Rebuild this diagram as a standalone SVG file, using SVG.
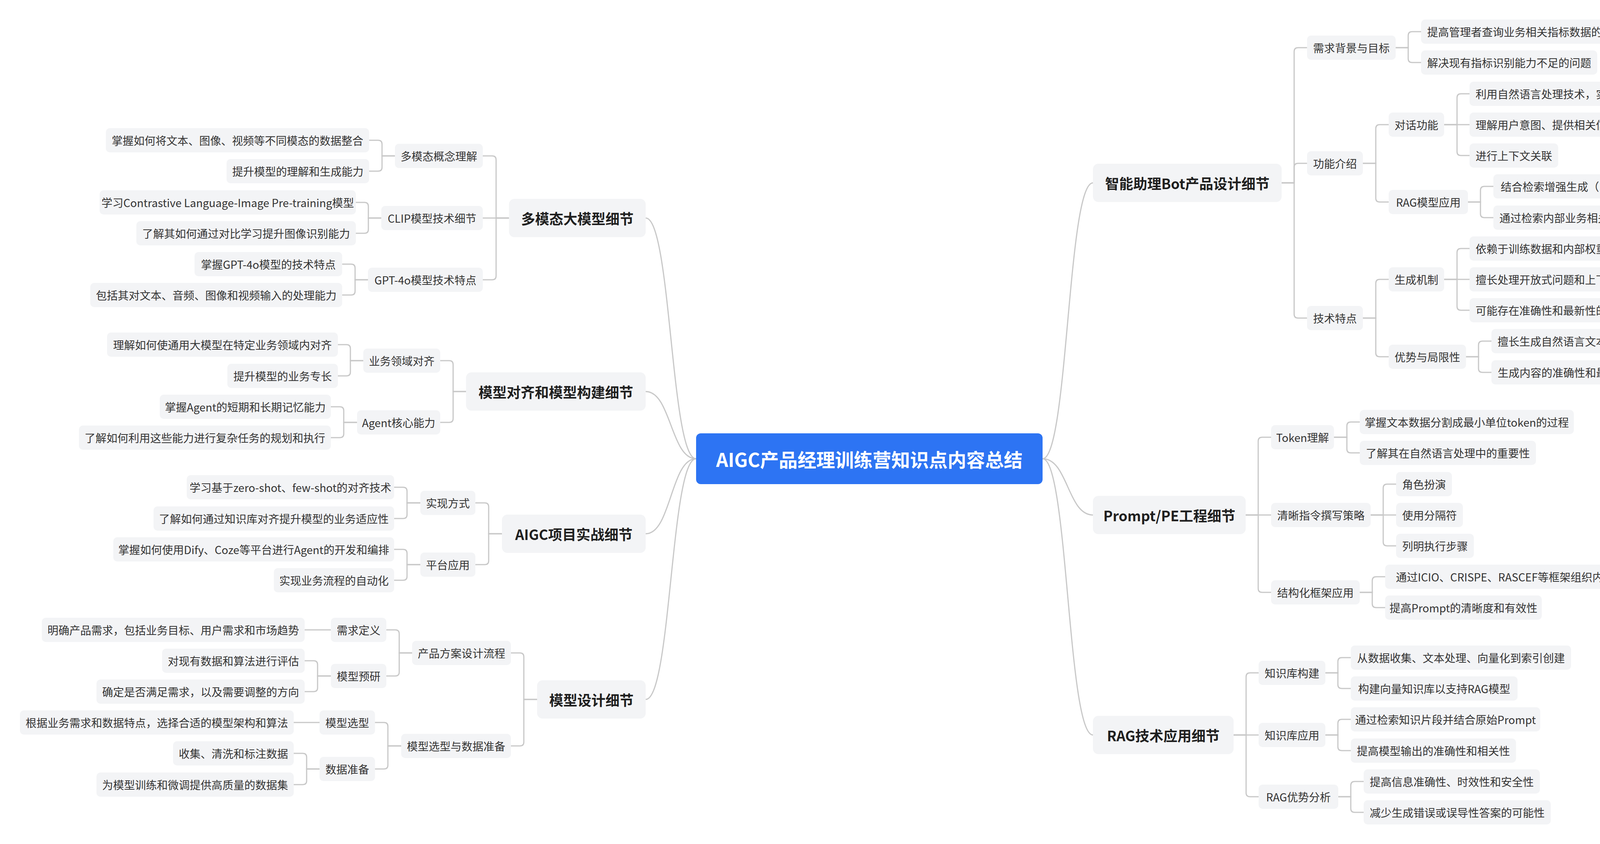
<svg xmlns="http://www.w3.org/2000/svg" width="4740" height="2160" viewBox="0 0 4740 2160">
<style>
.bg{fill:#ffffff}
.n{fill:#f3f4f6}
.l1{fill:#f3f4f6}
.rt{fill:#2d74f3}
.t{font-family:"Noto Sans CJK SC","Noto Sans",sans-serif;font-size:28px;fill:#333333;text-anchor:middle;dominant-baseline:central}
.t1{font-family:"Noto Sans CJK SC","Noto Sans",sans-serif;font-size:36px;font-weight:bold;fill:#1f1f1f;text-anchor:middle;dominant-baseline:central}
.tr{font-family:"Noto Sans CJK SC","Noto Sans",sans-serif;font-size:48px;font-weight:bold;fill:#ffffff;text-anchor:middle;dominant-baseline:central}
.c path{fill:none;stroke:#c8c8c8;stroke-width:3;stroke-linecap:round}
</style>
<rect class="bg" x="0" y="0" width="4740" height="2160"/>
<g class="c" id="connectors">
<path d="M1782 1174 C1717 1174 1718 558 1653 558"/>
<path d="M1782 1174 C1717 1174 1718 1002 1653 1002"/>
<path d="M1782 1174 C1717 1174 1718 1366 1653 1366"/>
<path d="M1782 1174 C1717 1174 1718 1790 1653 1790"/>
<path d="M2669 1174 C2734 1174 2733 468 2798 468"/>
<path d="M2669 1174 C2734 1174 2733 1318 2798 1318"/>
<path d="M2669 1174 C2734 1174 2733 1881 2798 1881"/>
<path d="M1303 558 H1270 V409 Q1270 399 1260 399 H1236"/>
<path d="M1303 558 H1236"/>
<path d="M1303 558 H1270 V706 Q1270 716 1260 716 H1236"/>
<path d="M1011 399 H978 V369 Q978 359 968 359 H945"/>
<path d="M1011 399 H978 V428 Q978 438 968 438 H945"/>
<path d="M976 558 H943 V528 Q943 518 933 518 H911"/>
<path d="M976 558 H943 V587 Q943 597 933 597 H911"/>
<path d="M942 716 H909 V686 Q909 676 899 676 H876"/>
<path d="M942 716 H909 V745 Q909 755 899 755 H876"/>
<path d="M1193 1002 H1160 V933 Q1160 923 1150 923 H1127"/>
<path d="M1193 1002 H1160 V1071 Q1160 1081 1150 1081 H1127"/>
<path d="M930 923 H897 V892 Q897 882 887 882 H865"/>
<path d="M930 923 H897 V952 Q897 962 887 962 H865"/>
<path d="M914 1081 H880 V1051 Q880 1041 870 1041 H847"/>
<path d="M914 1081 H880 V1110 Q880 1120 870 1120 H847"/>
<path d="M1285 1366 H1251 V1297 Q1251 1287 1241 1287 H1217"/>
<path d="M1285 1366 H1251 V1435 Q1251 1445 1241 1445 H1217"/>
<path d="M1076 1287 H1042 V1257 Q1042 1247 1032 1247 H1009"/>
<path d="M1076 1287 H1042 V1317 Q1042 1327 1032 1327 H1009"/>
<path d="M1076 1445 H1042 V1416 Q1042 1406 1032 1406 H1009"/>
<path d="M1076 1445 H1042 V1475 Q1042 1485 1032 1485 H1009"/>
<path d="M1375 1790 H1341 V1681 Q1341 1671 1331 1671 H1308"/>
<path d="M1375 1790 H1341 V1899 Q1341 1909 1331 1909 H1308"/>
<path d="M1055 1671 H1022 V1622 Q1022 1612 1012 1612 H989"/>
<path d="M1055 1671 H1022 V1720 Q1022 1730 1012 1730 H989"/>
<path d="M847 1612 H780"/>
<path d="M847 1730 H813 V1701 Q813 1691 803 1691 H780"/>
<path d="M847 1730 H813 V1760 Q813 1770 803 1770 H780"/>
<path d="M1027 1909 H993 V1859 Q993 1849 983 1849 H960"/>
<path d="M1027 1909 H993 V1958 Q993 1968 983 1968 H960"/>
<path d="M818 1849 H752"/>
<path d="M818 1968 H785 V1938 Q785 1928 775 1928 H752"/>
<path d="M818 1968 H785 V1998 Q785 2008 775 2008 H752"/>
<path d="M3281 468 H3313 V132 Q3313 122 3323 122 H3346"/>
<path d="M3281 468 H3313 V428 Q3313 418 3323 418 H3346"/>
<path d="M3281 468 H3313 V804 Q3313 814 3323 814 H3346"/>
<path d="M3573 122 H3605 V91 Q3605 81 3615 81 H3638"/>
<path d="M3573 122 H3605 V150 Q3605 160 3615 160 H3638"/>
<path d="M3489 418 H3522 V329 Q3522 319 3532 319 H3555"/>
<path d="M3489 418 H3522 V507 Q3522 517 3532 517 H3555"/>
<path d="M3697 319 H3730 V250 Q3730 240 3740 240 H3762"/>
<path d="M3697 319 H3762"/>
<path d="M3697 319 H3730 V388 Q3730 398 3740 398 H3762"/>
<path d="M3758 517 H3790 V487 Q3790 477 3800 477 H3823"/>
<path d="M3758 517 H3790 V547 Q3790 557 3800 557 H3823"/>
<path d="M3489 814 H3522 V725 Q3522 715 3532 715 H3555"/>
<path d="M3489 814 H3522 V903 Q3522 913 3532 913 H3555"/>
<path d="M3697 715 H3730 V646 Q3730 636 3740 636 H3762"/>
<path d="M3697 715 H3762"/>
<path d="M3697 715 H3730 V784 Q3730 794 3740 794 H3762"/>
<path d="M3753 913 H3785 V883 Q3785 873 3795 873 H3818"/>
<path d="M3753 913 H3785 V943 Q3785 953 3795 953 H3818"/>
<path d="M3189 1318 H3221 V1129 Q3221 1119 3231 1119 H3254"/>
<path d="M3189 1318 H3254"/>
<path d="M3189 1318 H3221 V1506 Q3221 1516 3231 1516 H3254"/>
<path d="M3415 1119 H3448 V1090 Q3448 1080 3458 1080 H3481"/>
<path d="M3415 1119 H3448 V1149 Q3448 1159 3458 1159 H3481"/>
<path d="M3509 1318 H3541 V1249 Q3541 1239 3551 1239 H3574"/>
<path d="M3509 1318 H3574"/>
<path d="M3509 1318 H3541 V1387 Q3541 1397 3551 1397 H3574"/>
<path d="M3481 1516 H3513 V1486 Q3513 1476 3523 1476 H3546"/>
<path d="M3481 1516 H3513 V1545 Q3513 1555 3523 1555 H3546"/>
<path d="M3158 1881 H3190 V1732 Q3190 1722 3200 1722 H3222"/>
<path d="M3158 1881 H3222"/>
<path d="M3158 1881 H3190 V2029 Q3190 2039 3200 2039 H3222"/>
<path d="M3393 1722 H3425 V1693 Q3425 1683 3435 1683 H3458"/>
<path d="M3393 1722 H3425 V1752 Q3425 1762 3435 1762 H3458"/>
<path d="M3393 1881 H3425 V1851 Q3425 1841 3435 1841 H3458"/>
<path d="M3393 1881 H3425 V1911 Q3425 1921 3435 1921 H3458"/>
<path d="M3426 2039 H3458 V2010 Q3458 2000 3468 2000 H3491"/>
<path d="M3426 2039 H3458 V2069 Q3458 2079 3468 2079 H3491"/>
</g>
<g id="root"><rect class="rt" x="1782" y="1109" width="887" height="130" rx="12"/><text class="tr" x="2225.5" y="1174">AIGC产品经理训练营知识点内容总结</text></g>
<g id="a"><rect class="l1" x="1303" y="509" width="350" height="98" rx="14"/><text class="t1" x="1478" y="558">多模态大模型细节</text></g>
<g id="a1"><rect class="n" x="1011" y="368" width="225" height="62" rx="10"/><text class="t" x="1123.5" y="399">多模态概念理解</text></g>
<g id="a1a"><rect class="n" x="271" y="328" width="674" height="62" rx="10"/><text class="t" x="608" y="359">掌握如何将文本、图像、视频等不同模态的数据整合</text></g>
<g id="a1b"><rect class="n" x="580" y="407" width="365" height="62" rx="10"/><text class="t" x="762.5" y="438">提升模型的理解和生成能力</text></g>
<g id="a2"><rect class="n" x="976" y="527" width="260" height="62" rx="10"/><text class="t" x="1106" y="558">CLIP模型技术细节</text></g>
<g id="a2a"><rect class="n" x="255" y="487" width="656" height="62" rx="10"/><text class="t" x="583" y="518">学习Contrastive Language-Image Pre-training模型</text></g>
<g id="a2b"><rect class="n" x="349" y="566" width="562" height="62" rx="10"/><text class="t" x="630" y="597">了解其如何通过对比学习提升图像识别能力</text></g>
<g id="a3"><rect class="n" x="942" y="685" width="294" height="62" rx="10"/><text class="t" x="1089" y="716">GPT-4o模型技术特点</text></g>
<g id="a3a"><rect class="n" x="498" y="645" width="378" height="62" rx="10"/><text class="t" x="687" y="676">掌握GPT-4o模型的技术特点</text></g>
<g id="a3b"><rect class="n" x="231" y="724" width="645" height="62" rx="10"/><text class="t" x="553.5" y="755">包括其对文本、音频、图像和视频输入的处理能力</text></g>
<g id="b"><rect class="l1" x="1193" y="953" width="460" height="98" rx="14"/><text class="t1" x="1423" y="1002">模型对齐和模型构建细节</text></g>
<g id="b1"><rect class="n" x="930" y="892" width="197" height="62" rx="10"/><text class="t" x="1028.5" y="923">业务领域对齐</text></g>
<g id="b1a"><rect class="n" x="274" y="851" width="591" height="62" rx="10"/><text class="t" x="569.5" y="882">理解如何使通用大模型在特定业务领域内对齐</text></g>
<g id="b1b"><rect class="n" x="582" y="931" width="283" height="62" rx="10"/><text class="t" x="723.5" y="962">提升模型的业务专长</text></g>
<g id="b2"><rect class="n" x="914" y="1050" width="213" height="62" rx="10"/><text class="t" x="1020.5" y="1081">Agent核心能力</text></g>
<g id="b2a"><rect class="n" x="409" y="1010" width="438" height="62" rx="10"/><text class="t" x="628" y="1041">掌握Agent的短期和长期记忆能力</text></g>
<g id="b2b"><rect class="n" x="202" y="1089" width="645" height="62" rx="10"/><text class="t" x="524.5" y="1120">了解如何利用这些能力进行复杂任务的规划和执行</text></g>
<g id="c"><rect class="l1" x="1285" y="1317" width="368" height="98" rx="14"/><text class="t1" x="1469" y="1366">AIGC项目实战细节</text></g>
<g id="c1"><rect class="n" x="1076" y="1256" width="141" height="62" rx="10"/><text class="t" x="1146.5" y="1287">实现方式</text></g>
<g id="c1a"><rect class="n" x="478" y="1216" width="531" height="62" rx="10"/><text class="t" x="743.5" y="1247">学习基于zero-shot、few-shot的对齐技术</text></g>
<g id="c1b"><rect class="n" x="393" y="1296" width="616" height="62" rx="10"/><text class="t" x="701" y="1327">了解如何通过知识库对齐提升模型的业务适应性</text></g>
<g id="c2"><rect class="n" x="1076" y="1414" width="141" height="62" rx="10"/><text class="t" x="1146.5" y="1445">平台应用</text></g>
<g id="c2a"><rect class="n" x="290" y="1375" width="719" height="62" rx="10"/><text class="t" x="649.5" y="1406">掌握如何使用Dify、Coze等平台进行Agent的开发和编排</text></g>
<g id="c2b"><rect class="n" x="701" y="1454" width="308" height="62" rx="10"/><text class="t" x="855" y="1485">实现业务流程的自动化</text></g>
<g id="d"><rect class="l1" x="1375" y="1741" width="278" height="98" rx="14"/><text class="t1" x="1514" y="1790">模型设计细节</text></g>
<g id="d1"><rect class="n" x="1055" y="1640" width="253" height="62" rx="10"/><text class="t" x="1181.5" y="1671">产品方案设计流程</text></g>
<g id="d1a"><rect class="n" x="847" y="1581" width="142" height="62" rx="10"/><text class="t" x="918" y="1612">需求定义</text></g>
<g id="d1a1"><rect class="n" x="107" y="1581" width="673" height="62" rx="10"/><text class="t" x="443.5" y="1612">明确产品需求，包括业务目标、用户需求和市场趋势</text></g>
<g id="d1b"><rect class="n" x="847" y="1699" width="142" height="62" rx="10"/><text class="t" x="918" y="1730">模型预研</text></g>
<g id="d1b1"><rect class="n" x="415" y="1660" width="365" height="62" rx="10"/><text class="t" x="597.5" y="1691">对现有数据和算法进行评估</text></g>
<g id="d1b2"><rect class="n" x="247" y="1739" width="533" height="62" rx="10"/><text class="t" x="513.5" y="1770">确定是否满足需求，以及需要调整的方向</text></g>
<g id="d2"><rect class="n" x="1027" y="1878" width="281" height="62" rx="10"/><text class="t" x="1167.5" y="1909">模型选型与数据准备</text></g>
<g id="d2a"><rect class="n" x="818" y="1818" width="142" height="62" rx="10"/><text class="t" x="889" y="1849">模型选型</text></g>
<g id="d2a1"><rect class="n" x="51" y="1818" width="701" height="62" rx="10"/><text class="t" x="401.5" y="1849">根据业务需求和数据特点，选择合适的模型架构和算法</text></g>
<g id="d2b"><rect class="n" x="818" y="1937" width="142" height="62" rx="10"/><text class="t" x="889" y="1968">数据准备</text></g>
<g id="d2b1"><rect class="n" x="443" y="1897" width="309" height="62" rx="10"/><text class="t" x="597.5" y="1928">收集、清洗和标注数据</text></g>
<g id="d2b2"><rect class="n" x="247" y="1977" width="505" height="62" rx="10"/><text class="t" x="499.5" y="2008">为模型训练和微调提供高质量的数据集</text></g>
<g id="e"><rect class="l1" x="2798" y="419" width="483" height="98" rx="14"/><text class="t1" x="3039.5" y="468">智能助理Bot产品设计细节</text></g>
<g id="e1"><rect class="n" x="3346" y="91" width="227" height="62" rx="10"/><text class="t" x="3459.5" y="122">需求背景与目标</text></g>
<g id="e1a"><rect class="n" x="3638" y="50" width="647" height="62" rx="10"/><text class="t" x="3961.5" y="81">提高管理者查询业务相关指标数据的效率和准确性</text></g>
<g id="e1b"><rect class="n" x="3638" y="129" width="451" height="62" rx="10"/><text class="t" x="3863.5" y="160">解决现有指标识别能力不足的问题</text></g>
<g id="e2"><rect class="n" x="3346" y="387" width="143" height="62" rx="10"/><text class="t" x="3417.5" y="418">功能介绍</text></g>
<g id="e2a"><rect class="n" x="3555" y="288" width="142" height="62" rx="10"/><text class="t" x="3626" y="319">对话功能</text></g>
<g id="e2a1"><rect class="n" x="3762" y="209" width="619" height="62" rx="10"/><text class="t" x="4071.5" y="240">利用自然语言处理技术，实现与用户的流畅对话</text></g>
<g id="e2a2"><rect class="n" x="3762" y="288" width="675" height="62" rx="10"/><text class="t" x="4099.5" y="319">理解用户意图、提供相关信息、回答问题和给出建议</text></g>
<g id="e2a3"><rect class="n" x="3762" y="367" width="227" height="62" rx="10"/><text class="t" x="3875.5" y="398">进行上下文关联</text></g>
<g id="e2b"><rect class="n" x="3555" y="486" width="203" height="62" rx="10"/><text class="t" x="3656.5" y="517">RAG模型应用</text></g>
<g id="e2b1"><rect class="n" x="3823" y="446" width="427" height="62" rx="10"/><text class="t" x="4036.5" y="477">结合检索增强生成（RAG）模型</text></g>
<g id="e2b2"><rect class="n" x="3823" y="526" width="731" height="62" rx="10"/><text class="t" x="4188.5" y="557">通过检索内部业务相关指标，提高回答的准确性和时效性</text></g>
<g id="e3"><rect class="n" x="3346" y="783" width="143" height="62" rx="10"/><text class="t" x="3417.5" y="814">技术特点</text></g>
<g id="e3a"><rect class="n" x="3555" y="684" width="142" height="62" rx="10"/><text class="t" x="3626" y="715">生成机制</text></g>
<g id="e3a1"><rect class="n" x="3762" y="605" width="479" height="62" rx="10"/><text class="t" x="4001.5" y="636">依赖于训练数据和内部权重生成响应</text></g>
<g id="e3a2"><rect class="n" x="3762" y="684" width="535" height="62" rx="10"/><text class="t" x="4029.5" y="715">擅长处理开放式问题和上下文相关的对话</text></g>
<g id="e3a3"><rect class="n" x="3762" y="763" width="423" height="62" rx="10"/><text class="t" x="3973.5" y="794">可能存在准确性和最新性的限制</text></g>
<g id="e3b"><rect class="n" x="3555" y="882" width="198" height="62" rx="10"/><text class="t" x="3654" y="913">优势与局限性</text></g>
<g id="e3b1"><rect class="n" x="3818" y="842" width="871" height="62" rx="10"/><text class="t" x="4253.5" y="873">擅长生成自然语言文本，能处理开放式问题，进行上下文相关的对话</text></g>
<g id="e3b2"><rect class="n" x="3818" y="922" width="592" height="62" rx="10"/><text class="t" x="4114" y="953">生成内容的准确性和最新性受限于预训练数据</text></g>
<g id="f"><rect class="l1" x="2798" y="1269" width="391" height="98" rx="14"/><text class="t1" x="2993.5" y="1318">Prompt/PE工程细节</text></g>
<g id="f1"><rect class="n" x="3254" y="1088" width="161" height="62" rx="10"/><text class="t" x="3334.5" y="1119">Token理解</text></g>
<g id="f1a"><rect class="n" x="3481" y="1049" width="548" height="62" rx="10"/><text class="t" x="3755" y="1080">掌握文本数据分割成最小单位token的过程</text></g>
<g id="f1b"><rect class="n" x="3481" y="1128" width="451" height="62" rx="10"/><text class="t" x="3706.5" y="1159">了解其在自然语言处理中的重要性</text></g>
<g id="f2"><rect class="n" x="3254" y="1287" width="255" height="62" rx="10"/><text class="t" x="3381.5" y="1318">清晰指令撰写策略</text></g>
<g id="f2a"><rect class="n" x="3574" y="1208" width="143" height="62" rx="10"/><text class="t" x="3645.5" y="1239">角色扮演</text></g>
<g id="f2b"><rect class="n" x="3574" y="1287" width="171" height="62" rx="10"/><text class="t" x="3659.5" y="1318">使用分隔符</text></g>
<g id="f2c"><rect class="n" x="3574" y="1366" width="199" height="62" rx="10"/><text class="t" x="3673.5" y="1397">列明执行步骤</text></g>
<g id="f3"><rect class="n" x="3254" y="1485" width="227" height="62" rx="10"/><text class="t" x="3367.5" y="1516">结构化框架应用</text></g>
<g id="f3a"><rect class="n" x="3546" y="1445" width="614" height="62" rx="10"/><text class="t" x="3853" y="1476">通过ICIO、CRISPE、RASCEF等框架组织内容</text></g>
<g id="f3b"><rect class="n" x="3546" y="1524" width="401" height="62" rx="10"/><text class="t" x="3746.5" y="1555">提高Prompt的清晰度和有效性</text></g>
<g id="g"><rect class="l1" x="2798" y="1832" width="360" height="98" rx="14"/><text class="t1" x="2978" y="1881">RAG技术应用细节</text></g>
<g id="g1"><rect class="n" x="3222" y="1691" width="171" height="62" rx="10"/><text class="t" x="3307.5" y="1722">知识库构建</text></g>
<g id="g1a"><rect class="n" x="3458" y="1652" width="564" height="62" rx="10"/><text class="t" x="3740" y="1683">从数据收集、文本处理、向量化到索引创建</text></g>
<g id="g1b"><rect class="n" x="3458" y="1731" width="427" height="62" rx="10"/><text class="t" x="3671.5" y="1762">构建向量知识库以支持RAG模型</text></g>
<g id="g2"><rect class="n" x="3222" y="1850" width="171" height="62" rx="10"/><text class="t" x="3307.5" y="1881">知识库应用</text></g>
<g id="g2a"><rect class="n" x="3458" y="1810" width="485" height="62" rx="10"/><text class="t" x="3700.5" y="1841">通过检索知识片段并结合原始Prompt</text></g>
<g id="g2b"><rect class="n" x="3458" y="1890" width="423" height="62" rx="10"/><text class="t" x="3669.5" y="1921">提高模型输出的准确性和相关性</text></g>
<g id="g3"><rect class="n" x="3222" y="2008" width="204" height="62" rx="10"/><text class="t" x="3324" y="2039">RAG优势分析</text></g>
<g id="g3a"><rect class="n" x="3491" y="1969" width="451" height="62" rx="10"/><text class="t" x="3716.5" y="2000">提高信息准确性、时效性和安全性</text></g>
<g id="g3b"><rect class="n" x="3491" y="2048" width="479" height="62" rx="10"/><text class="t" x="3730.5" y="2079">减少生成错误或误导性答案的可能性</text></g>
</svg>
